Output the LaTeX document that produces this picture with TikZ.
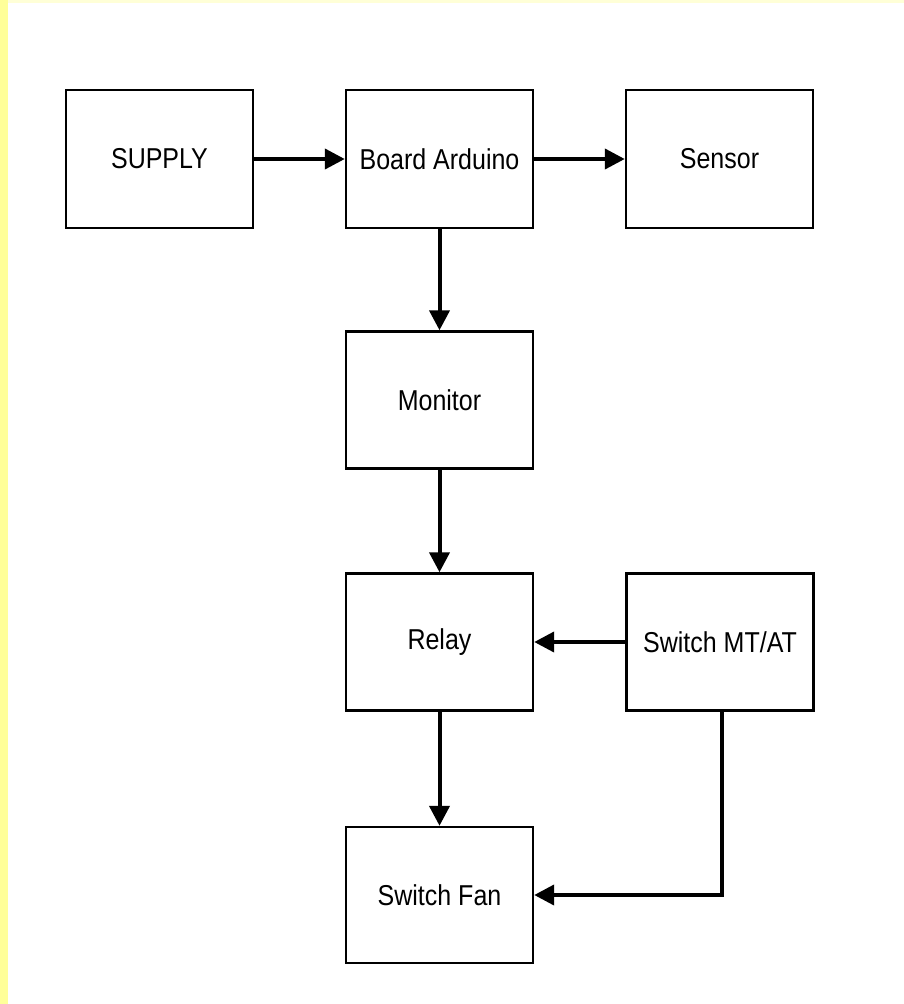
\documentclass[tikz,border=0pt]{standalone}
\usepackage{fontspec}
\setmainfont{Liberation Sans}
\usetikzlibrary{arrows.meta}
\definecolor{yelA}{RGB}{255,255,153}
\definecolor{yelB}{RGB}{255,255,215}
\tikzset{
  blk/.style={draw=black, line width=2.4pt, fill=white, inner sep=0pt,
    minimum width=187pt, minimum height=137pt, font=\fontsize{25}{30}\selectfont},
  arr/.style={line width=4pt, -{Triangle[length=20pt,width=20pt]}}
}
\newcommand{\lbl}[1]{\scalebox{1}[1.15]{#1}}
\begin{document}
\begin{tikzpicture}[x=1pt,y=-1pt]
\useasboundingbox (0,0) rectangle (904,1004);
\fill[white] (0,0) rectangle (904,1004);
\fill[yelB] (0,0) rectangle (904,3);
\fill[yelA] (0,0) rectangle (8,1004);
\node[blk, minimum height=138pt] (sup) at (159.5,159) {\lbl{SUPPLY}};
\node[blk, minimum height=138pt] (ard) at (439.5,159) {\lbl{Board Arduino}};
\node[blk, minimum height=138pt] (sen) at (719.5,159) {\lbl{Sensor}};
\node[blk] (mon) at (439.5,400) {\lbl{Monitor}};
\node[blk] (rel) at (439.5,642) {\lbl{Relay}};
\node[blk] (sw) at (720,642) {\lbl{Switch MT/AT}};
\node[blk, minimum height=136pt] (fan) at (439.5,895) {\lbl{Switch Fan}};
\draw[arr] (sup) -- (ard);
\draw[arr] (ard) -- (sen);
\draw[arr] (ard) -- (mon);
\draw[arr] (mon) -- (rel);
\draw[arr] (rel) -- (fan);
\draw[arr] (sw) -- (rel);
\draw[arr] ([xshift=2pt]sw.south) |- (fan.east);
\end{tikzpicture}
\end{document}
